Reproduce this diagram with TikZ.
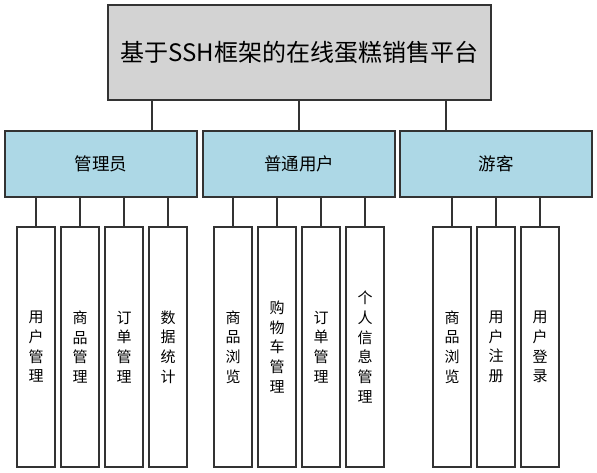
\documentclass[tikz,border=0pt]{standalone}
\usepackage{fontspec}
\setmainfont{Noto Sans CJK SC}
\definecolor{topgray}{RGB}{211,211,211}
\definecolor{roleblue}{RGB}{173,216,230}
\begin{document}
\begin{tikzpicture}[x=1pt,y=-1pt,
  box/.style={draw=black!80,line width=1.2pt,inner sep=0pt},
  top/.style={box,fill=topgray,minimum width=383pt,minimum height=95pt,font=\fontsize{24}{28}\selectfont},
  role/.style={box,fill=roleblue,minimum width=192pt,minimum height=66pt,font=\fontsize{17.5}{22}\selectfont},
  leaf/.style={box,fill=white,minimum width=38pt,minimum height=240pt,align=center,font=\fontsize{15}{19.7}\selectfont},
  link/.style={draw=black!80,line width=1.8pt}]
\useasboundingbox (0,0) rectangle (597,473);
\node[top] (title) at (299.5,52.5) {基于SSH框架的在线蛋糕销售平台};
\node[role] (admin) at (101,164) {管理员};
\node[role] (member) at (299,164) {普通用户};
\node[role] (guest) at (496,164) {游客};
\foreach \x/\r in {152/admin,299/member,446/guest} {
  \coordinate (c\r) at (\x,0);
  \draw[link] (title.south -| c\r) -- (\r.north -| c\r);
}
\foreach \x/\t [count=\i] in {36/用\\户\\管\\理,80/商\\品\\管\\理,124/订\\单\\管\\理,168/数\\据\\统\\计} {
  \node[leaf] (a\i) at (\x,347) {\t};
  \draw[link] (admin.south -| a\i) -- (a\i.north);
}
\foreach \x/\t [count=\i] in {233/商\\品\\浏\\览,277/购\\物\\车\\管\\理,321/订\\单\\管\\理,365/个\\人\\信\\息\\管\\理} {
  \node[leaf] (m\i) at (\x,347) {\t};
  \draw[link] (member.south -| m\i) -- (m\i.north);
}
\foreach \x/\t [count=\i] in {452/商\\品\\浏\\览,496/用\\户\\注\\册,540/用\\户\\登\\录} {
  \node[leaf] (g\i) at (\x,347) {\t};
  \draw[link] (guest.south -| g\i) -- (g\i.north);
}
\end{tikzpicture}
\end{document}
